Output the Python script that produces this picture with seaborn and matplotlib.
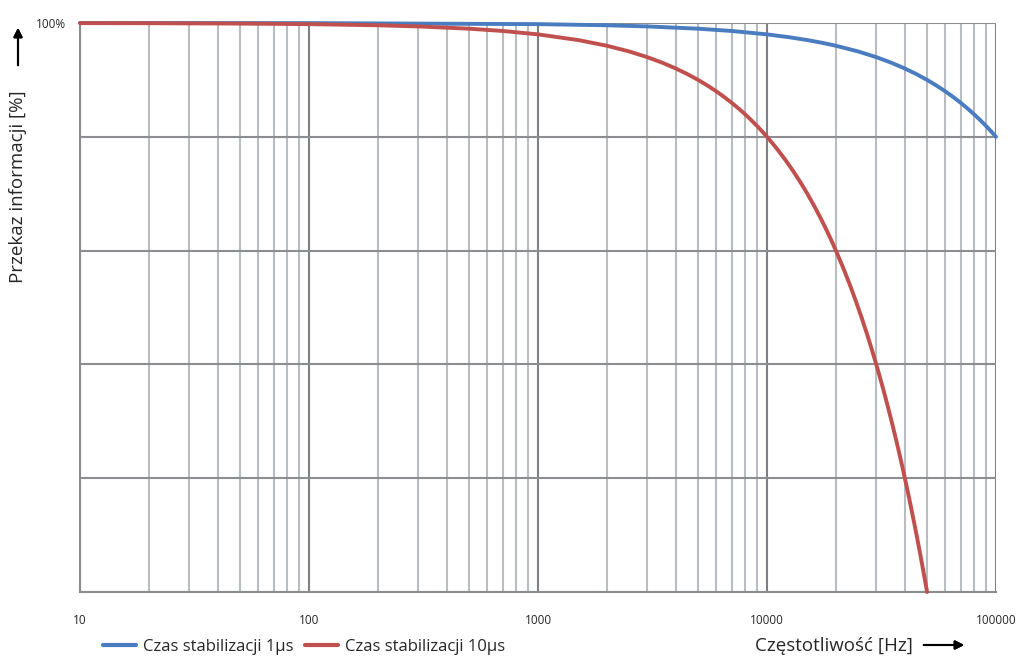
import numpy as np
import pandas as pd
import seaborn as sns
import matplotlib.pyplot as plt
from matplotlib.ticker import FixedLocator, FuncFormatter, NullFormatter

# values
freq_10us = [10, 20, 50, 100, 200, 300, 500, 700, 1000, 1500, 2000, 2500, 3000,
             3500, 4000, 4500, 5000, 5500, 6000, 6500, 7000, 7500, 8000, 8500,
             9000, 9500, 10000, 11000, 12000, 13000, 14000, 15000, 16000, 17000,
             18000, 19000, 20000, 21500, 23000, 24500, 26000, 27500, 29000,
             30500, 32000, 33500, 35000, 36500, 38000, 39500, 41000, 42500,
             44000, 45500, 47000, 48500, 50000]
trans_10us = [99.98, 99.96, 99.9, 99.8, 99.6, 99.4, 99.0, 98.6, 98.0, 97.0, 96.0,
              95.0, 94.0, 93.0, 92.0, 91.0, 90.0, 89.0, 88.0, 87.0, 86.0, 85.0,
              84.0, 83.0, 82.0, 81.0, 80.0, 78.0, 76.0, 74.0, 72.0, 70.0, 68.0,
              66.0, 64.0, 62.0, 60.0, 57.0, 54.0, 51.0, 48.0, 45.0, 42.0, 39.0,
              36.0, 33.0, 30.0, 27.0, 24.0, 21.0, 18.0, 15.0, 12.0, 9.0, 6.0,
              3.0, 0.0]

freq_1us = [10, 100, 1000, 2000, 3000, 5000, 7000, 10000, 12500, 15000, 17500,
            20000, 25000, 30000, 35000, 40000, 45000, 50000, 55000, 60000, 65000,
            70000, 75000, 80000, 85000, 90000, 95000, 100000]
trans_1us = [100.0, 99.98, 99.8, 99.6, 99.4, 99.0, 98.6, 98.0, 97.5, 97.0, 96.5,
             96.0, 95.0, 94.0, 93.0, 92.0, 91.0, 90.0, 89.0, 88.0, 87.0, 86.0,
             85.0, 84.0, 83.0, 82.0, 81.0, 80.0]

labels = ["Czas stabilizacji 1µs", "Czas stabilizacji 10µs"]
colors = ["#4a7cc0", "#c0504d"]

df = pd.concat([
    pd.DataFrame({"f": freq_1us, "p": trans_1us, "seria": labels[0]}),
    pd.DataFrame({"f": freq_10us, "p": trans_10us, "seria": labels[1]}),
])

sns.set_style("white")
plt.rcParams["font.family"] = ["Open Sans", "DejaVu Sans"]

fig = plt.figure(figsize=(10.16, 6.56), dpi=100)
ax = fig.add_axes([80 / 1016, 64 / 656, 916 / 1016, 569 / 656])

sns.lineplot(data=df, x="f", y="p", hue="seria", palette=dict(zip(labels, colors)),
             linewidth=2.8, ax=ax, legend=False, clip_on=False, zorder=5,
             estimator=None, sort=False)

ax.set_xscale("log")
ax.set_xlim(10, 100000)
ax.set_ylim(0, 100)
ax.margins(0)

ax.yaxis.set_major_locator(FixedLocator([0, 20, 40, 60, 80, 100]))
ax.yaxis.set_major_formatter(FuncFormatter(lambda v, _: "100%" if v == 100 else ""))
ax.xaxis.set_major_locator(FixedLocator([10, 100, 1000, 10000, 100000]))
ax.xaxis.set_major_formatter(FuncFormatter(lambda v, _: "%d" % v))
minors = [m * d for d in [10, 100, 1000, 10000] for m in range(2, 10)]
ax.xaxis.set_minor_locator(FixedLocator(minors))
ax.xaxis.set_minor_formatter(NullFormatter())

ax.grid(True, which="major", axis="y", color="#8c8d91", linewidth=1.5)
ax.grid(True, which="major", axis="x", color="#7f8086", linewidth=1.5)
ax.grid(True, which="minor", axis="x", color="#b9bcc0", linewidth=1.5)
ax.set_axisbelow(True)

for s in ["top", "right"]:
    ax.spines[s].set_visible(False)
for s in ["left", "bottom"]:
    ax.spines[s].set_color("#8c8d91")
    ax.spines[s].set_linewidth(1.5)

ax.tick_params(axis="y", which="major", direction="out", length=4, width=1.5,
               color="#8c8d91", labelsize=8.5, pad=6)
ax.tick_params(axis="x", which="major", direction="out", length=4, width=1.5,
               color="#7f8086", labelsize=8.5, pad=12)
ax.tick_params(axis="x", which="minor", length=0)
ax.set_xlabel("")
ax.set_ylabel("")

# axis titles with arrows
fig.text(913 / 1016, 1 - 646 / 656, "Częstotliwość [Hz]", ha="right", va="center",
         fontsize=13.5)
fig.add_artist(plt.annotate("", xy=(967 / 1016, 1 - 645 / 656), xytext=(921 / 1016, 1 - 645 / 656),
                            xycoords="figure fraction",
                            arrowprops=dict(arrowstyle="-|>", color="black", lw=1.5,
                                            mutation_scale=13)))
fig.text(18 / 1016, 1 - 283 / 656, "Przekaz informacji [%]", rotation=90, ha="center",
         va="bottom", fontsize=13.5)
fig.add_artist(plt.annotate("", xy=(18 / 1016, 1 - 25 / 656), xytext=(18 / 1016, 1 - 68 / 656),
                            xycoords="figure fraction",
                            arrowprops=dict(arrowstyle="-|>", color="black", lw=1.5,
                                            mutation_scale=13)))

handles = [plt.Line2D([], [], color=c, linewidth=3) for c in colors]
fig.legend(handles, labels, loc="center left", bbox_to_anchor=(103 / 1016, 1 - 647 / 656),
           ncol=2, frameon=False, fontsize=12, handlelength=2.0, handletextpad=0.4,
           columnspacing=0.7, borderaxespad=0, borderpad=0)

fig.savefig("out.png", dpi=100)
